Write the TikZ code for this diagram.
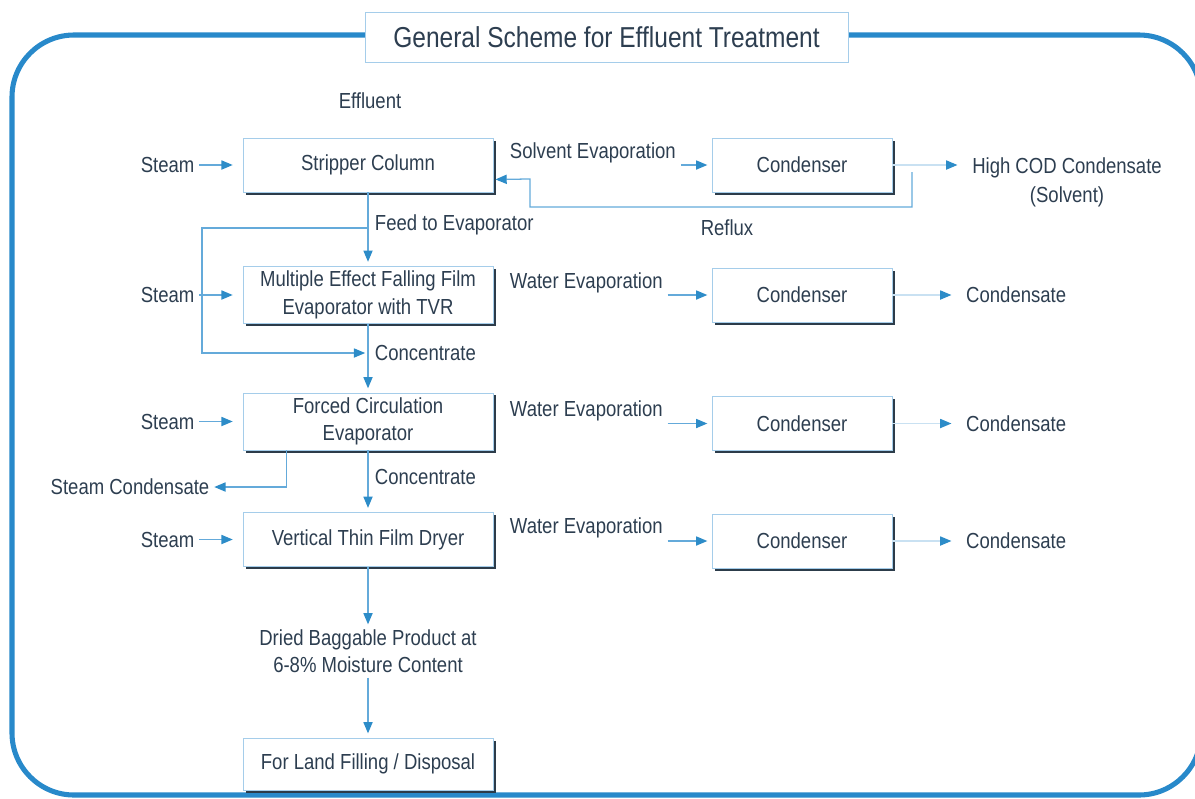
\documentclass[tikz,border=0pt]{standalone}
\usepackage{fontspec}
\setmainfont{Liberation Sans}[FakeStretch=0.85]
\usetikzlibrary{positioning}
\usetikzlibrary{calc}
\usetikzlibrary{shadows}
\usetikzlibrary{arrows.meta}
\definecolor{frameblue}{RGB}{40,137,202}
\definecolor{flowblue}{RGB}{100,170,218}
\definecolor{tipblue}{RGB}{45,140,200}
\definecolor{boxline}{RGB}{165,205,234}
\definecolor{shade}{RGB}{44,60,74}
\definecolor{ink}{RGB}{45,62,80}
\tikzset{every picture/.style={x=0.025cm,y=-0.025cm},
every node/.style={text=ink,font=\fontsize{15.5}{19.5}\selectfont},
unit/.style={draw=boxline,fill=white,line width=0.6pt,minimum width=6.25cm,minimum height=1.35cm,align=center,
  drop shadow={shadow xshift=1.8pt,shadow yshift=-1.8pt,fill=shade,opacity=1}},
cond/.style={unit,minimum width=4.5cm},
flow/.style={draw=flowblue,line width=0.9pt,-{Triangle[length=8pt,width=6.5pt,color=tipblue]}},
faint/.style={flow,draw=flowblue!35}}

\begin{document}
\begin{tikzpicture}
\useasboundingbox (0,0) rectangle (1195,798);
\draw[frameblue,line width=3.6pt,rounded corners=1.55cm] (12,35) rectangle (1201,795);

\node (title) at (606.5,37) [draw=boxline,fill=white,minimum width=12.08cm,minimum height=1.25cm,font=\fontsize{20.5}{24}\selectfont] {General Scheme for Effluent Treatment};

% main line
\node (effluent) at (370,101) {Effluent};
\node (strip) at (368,165) [unit] {Stripper Column};
\node (mee) at (368,295) [unit,minimum height=1.4cm] {Multiple Effect Falling Film\\Evaporator with TVR};
\node (fce) at (368,421.5) [unit] {Forced Circulation\\Evaporator};
\node (vtfd) at (368,539.5) [unit] {Vertical Thin Film Dryer};
\node (dried) at (368,651) [align=center] {Dried Baggable Product at\\6-8\% Moisture Content};
\node (land) at (368,764) [unit,minimum height=1.3cm] {For Land Filling / Disposal};

\foreach \b in {strip,mee,fce,vtfd} {
\node (steam-\b) [left=1.08cm of \b] {Steam};
\draw[flow,shorten >=7pt] (steam-\b) -- (\b);
}

\draw[flow,shorten >=3pt] (strip) -- (mee);
\draw[flow,shorten >=3pt] (mee) -- (fce);
\draw[flow,shorten >=3pt] (fce) -- (vtfd);
\draw[flow] (vtfd) -- (dried);
\draw[flow,shorten >=3pt] (dried) -- (land);

\node (feed) at (370,225) [anchor=west] {Feed to Evaporator};
\node (conc1) at (370,353) [anchor=west] {Concentrate};
\node (conc2) at (370,477) [anchor=west] {Concentrate};

% bypass round the evaporator
\coordinate (split) at (368,228);
\coordinate (merge) at (368,353);
\draw[flow,shorten >=2pt] (split) -- ++(-166,0) |- (merge);

\node (stcond) at (130,487) {Steam Condensate};
\draw[flow] ($(fce.south west)+(44,0)$) |- (stcond);

% condensers
\node (cnd1) at (802,165) [cond] {Condenser};
\node (cnd2) at (802,295) [cond] {Condenser};
\node (cnd3) at (802,423.5) [cond] {Condenser};
\node (cnd4) at (802,541) [cond] {Condenser};

\node (solv) at (505,153) [anchor=west] {Solvent Evaporation};
\draw[flow,shorten >=3pt] (solv.east |- cnd1.west) -- (cnd1.west);
\foreach \n/\y in {2/283,3/411,4/528} {
\node (wev\n) at (505,\y) [anchor=west] {Water Evaporation};
\draw[flow,shorten >=3pt] (wev\n.east |- cnd\n.west) -- (cnd\n.west);
\node (out\n) [right=1.72cm of cnd\n] {Condensate};
\draw[faint,shorten >=7pt] (cnd\n) -- (out\n);
}

\node (hcod) at (1067,182) [align=center,font=\fontsize{15.5}{20.5}\selectfont] {High COD Condensate\\(Solvent)};
\draw[faint,shorten >=7pt] (cnd1.east) -- (cnd1.east -| hcod.west);

% reflux back to the column
\coordinate (rfx) at (912,172);
\draw[flow] (rfx) -- ++(0,35) -| ++(-382,-28) -- ($(strip.south east)+(2,-13)$);
\node (reflux) at (727,228) {Reflux};
\end{tikzpicture}
\end{document}
